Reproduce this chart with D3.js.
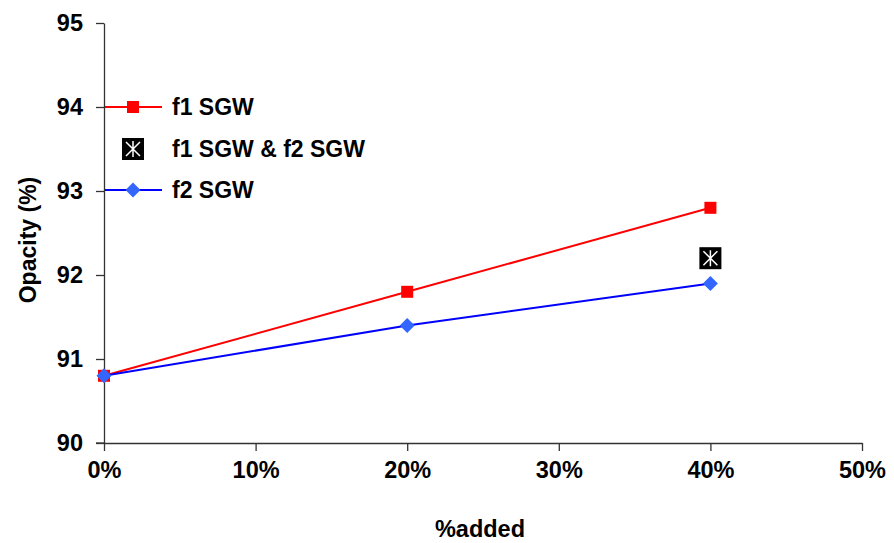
<!DOCTYPE html>
<html>
<head>
<meta charset="utf-8">
<script src="https://cdn.jsdelivr.net/npm/d3@7"></script>
<style>
  html, body { margin: 0; padding: 0; background: #fff; }
  svg text { font-family: "Liberation Sans", Arial, sans-serif; font-weight: bold; fill: #000; }
</style>
</head>
<body>
<svg id="chart" width="894" height="543"></svg>
<script>
// Opacity vs. share of filler added
const addedPct = [0, 0.2, 0.4];
const f1SGW = [90.8, 91.8, 92.8];
const f2SGW = [90.8, 91.4, 91.9];
const bothAdded = [0.4];
const bothSGW = [92.2];
const xTicks = [0, 0.1, 0.2, 0.3, 0.4, 0.5];
const yTicks = [90, 91, 92, 93, 94, 95];
const legendLabels = ["f1 SGW", "f1 SGW & f2 SGW", "f2 SGW"];

const svg = d3.select("#chart");
const x = d3.scaleLinear().domain([0, 0.5]).range([104, 862]);
const y = d3.scaleLinear().domain([90, 95]).range([443, 23]);

// Axes
const xAxis = d3.axisBottom(x).tickValues(xTicks).tickFormat(d3.format(".0%")).tickSize(8).tickSizeOuter(0).tickPadding(5);
const yAxis = d3.axisLeft(y).tickValues(yTicks).tickFormat(d3.format("d")).tickSize(8).tickSizeOuter(0).tickPadding(13);

const gx = svg.append("g").attr("transform", "translate(0,443)").call(xAxis);
gx.selectAll("text").attr("font-size", 23.5).attr("dy", "0.95em");
const gy = svg.append("g").attr("transform", "translate(104,0)").call(yAxis);
gy.selectAll("text").attr("font-size", 23.5);
svg.selectAll(".domain, .tick line").attr("stroke", "#333").attr("stroke-width", 1.3);
// extend x axis line to the left end of the y tick at 90
svg.append("line").attr("x1", 96).attr("x2", 104).attr("y1", 443).attr("y2", 443).attr("stroke", "#333").attr("stroke-width", 1.3);

// Axis titles
svg.append("text").attr("x", 480).attr("y", 537).attr("text-anchor", "middle").attr("font-size", 23.5).text("%added");
svg.append("text").attr("transform", "translate(36,240) rotate(-90)").attr("text-anchor", "middle").attr("font-size", 23).text("Opacity (%)");

const line = d3.line().x(d => x(d[0])).y(d => y(d[1]));
const f1Pts = addedPct.map((a, i) => [a, f1SGW[i]]);
const f2Pts = addedPct.map((a, i) => [a, f2SGW[i]]);

svg.append("path").attr("d", line(f1Pts)).attr("fill", "none").attr("stroke", "#ff0000").attr("stroke-width", 2);
svg.append("path").attr("d", line(f2Pts)).attr("fill", "none").attr("stroke", "#0000ff").attr("stroke-width", 2);

function square(g, cx, cy) {
  g.append("rect").attr("x", cx - 6).attr("y", cy - 6).attr("width", 12).attr("height", 12).attr("fill", "#ff0000");
}
function diamond(g, cx, cy) {
  const r = 7.5;
  g.append("path").attr("d", `M${cx},${cy - r}L${cx + r},${cy}L${cx},${cy + r}L${cx - r},${cy}Z`).attr("fill", "#3366ff");
}
function star(g, cx, cy) {
  const h = 11;
  g.append("rect").attr("x", cx - h).attr("y", cy - h).attr("width", 2 * h).attr("height", 2 * h).attr("fill", "#000");
  const s = 7;
  g.append("path")
    .attr("d", `M${cx},${cy - s - 1}V${cy + s + 1}M${cx - s},${cy - s}L${cx + s},${cy + s}M${cx + s},${cy - s}L${cx - s},${cy + s}`)
    .attr("stroke", "#fff").attr("stroke-width", 1.5);
}

const marks = svg.append("g");
f1Pts.forEach(p => square(marks, x(p[0]), y(p[1])));
f2Pts.forEach(p => diamond(marks, x(p[0]), y(p[1])));
bothAdded.forEach((a, i) => star(marks, x(a), y(bothSGW[i])));

// Legend
const leg = svg.append("g");
const legY = [107, 149, 190];
leg.append("line").attr("x1", 105).attr("x2", 162).attr("y1", legY[0]).attr("y2", legY[0]).attr("stroke", "#ff0000").attr("stroke-width", 2);
square(leg, 133, legY[0]);
star(leg, 133, legY[1]);
leg.append("line").attr("x1", 105).attr("x2", 162).attr("y1", legY[2]).attr("y2", legY[2]).attr("stroke", "#0000ff").attr("stroke-width", 2);
diamond(leg, 133, legY[2]);
legendLabels.forEach((t, i) => {
  leg.append("text").attr("x", 172).attr("y", legY[i] + 8).attr("font-size", 23).text(t);
});
</script>
</body>
</html>
